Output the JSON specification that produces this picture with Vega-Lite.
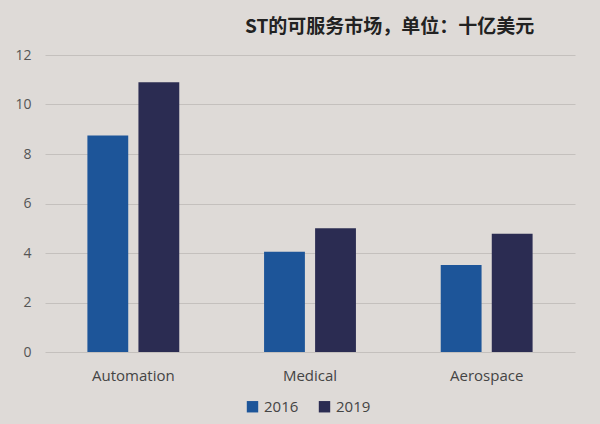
{
  "$schema": "https://vega.github.io/schema/vega-lite/v6.json",
  "width": 530,
  "height": 297,
  "autosize": {"type": "none"},
  "padding": {"left": 45, "top": 55, "right": 25, "bottom": 72},
  "background": "#dedad7",
  "title": {
    "text": "ST的可服务市场，单位：十亿美元",
    "anchor": "start",
    "dx": 230,
    "offset": 11,
    "fontSize": 19,
    "fontWeight": "bold",
    "font": "Noto Sans CJK SC",
    "color": "#222222"
  },
  "data": {
    "values": [
      {"category": "Automation", "year": "2016", "value": 8.75},
      {"category": "Automation", "year": "2019", "value": 10.9},
      {"category": "Medical", "year": "2016", "value": 4.05},
      {"category": "Medical", "year": "2019", "value": 5.0},
      {"category": "Aerospace", "year": "2016", "value": 3.52},
      {"category": "Aerospace", "year": "2019", "value": 4.78}
    ]
  },
  "mark": {"type": "bar"},
  "encoding": {
    "x": {
      "field": "category",
      "type": "nominal",
      "sort": ["Automation", "Medical", "Aerospace"],
      "scale": {"paddingInner": 0.48, "paddingOuter": 0.24},
      "axis": {
        "title": null,
        "labelAngle": 0,
        "domain": false,
        "ticks": false,
        "labelFontSize": 15,
        "labelColor": "#444444",
        "labelFont": "Open Sans",
        "labelPadding": 16
      }
    },
    "xOffset": {
      "field": "year",
      "type": "nominal",
      "scale": {"paddingInner": 0.2}
    },
    "y": {
      "field": "value",
      "type": "quantitative",
      "scale": {"domain": [0, 12]},
      "axis": {
        "title": null,
        "values": [0, 2, 4, 6, 8, 10, 12],
        "domain": false,
        "ticks": false,
        "grid": true,
        "gridColor": "#c4c0bd",
        "labelFontSize": 14,
        "labelColor": "#555555",
        "labelFont": "Open Sans",
        "labelPadding": 14
      }
    },
    "color": {
      "field": "year",
      "type": "nominal",
      "scale": {"domain": ["2016", "2019"], "range": ["#1d5599", "#2b2c52"]},
      "legend": {
        "title": null,
        "orient": "none",
        "direction": "horizontal",
        "legendX": 200,
        "legendY": 344,
        "symbolType": "square",
        "symbolSize": 130,
        "symbolStrokeWidth": 0,
        "labelFontSize": 15,
        "labelColor": "#444444",
        "labelFont": "Open Sans",
        "columnPadding": 18
      }
    }
  },
  "config": {"view": {"stroke": null}}
}
